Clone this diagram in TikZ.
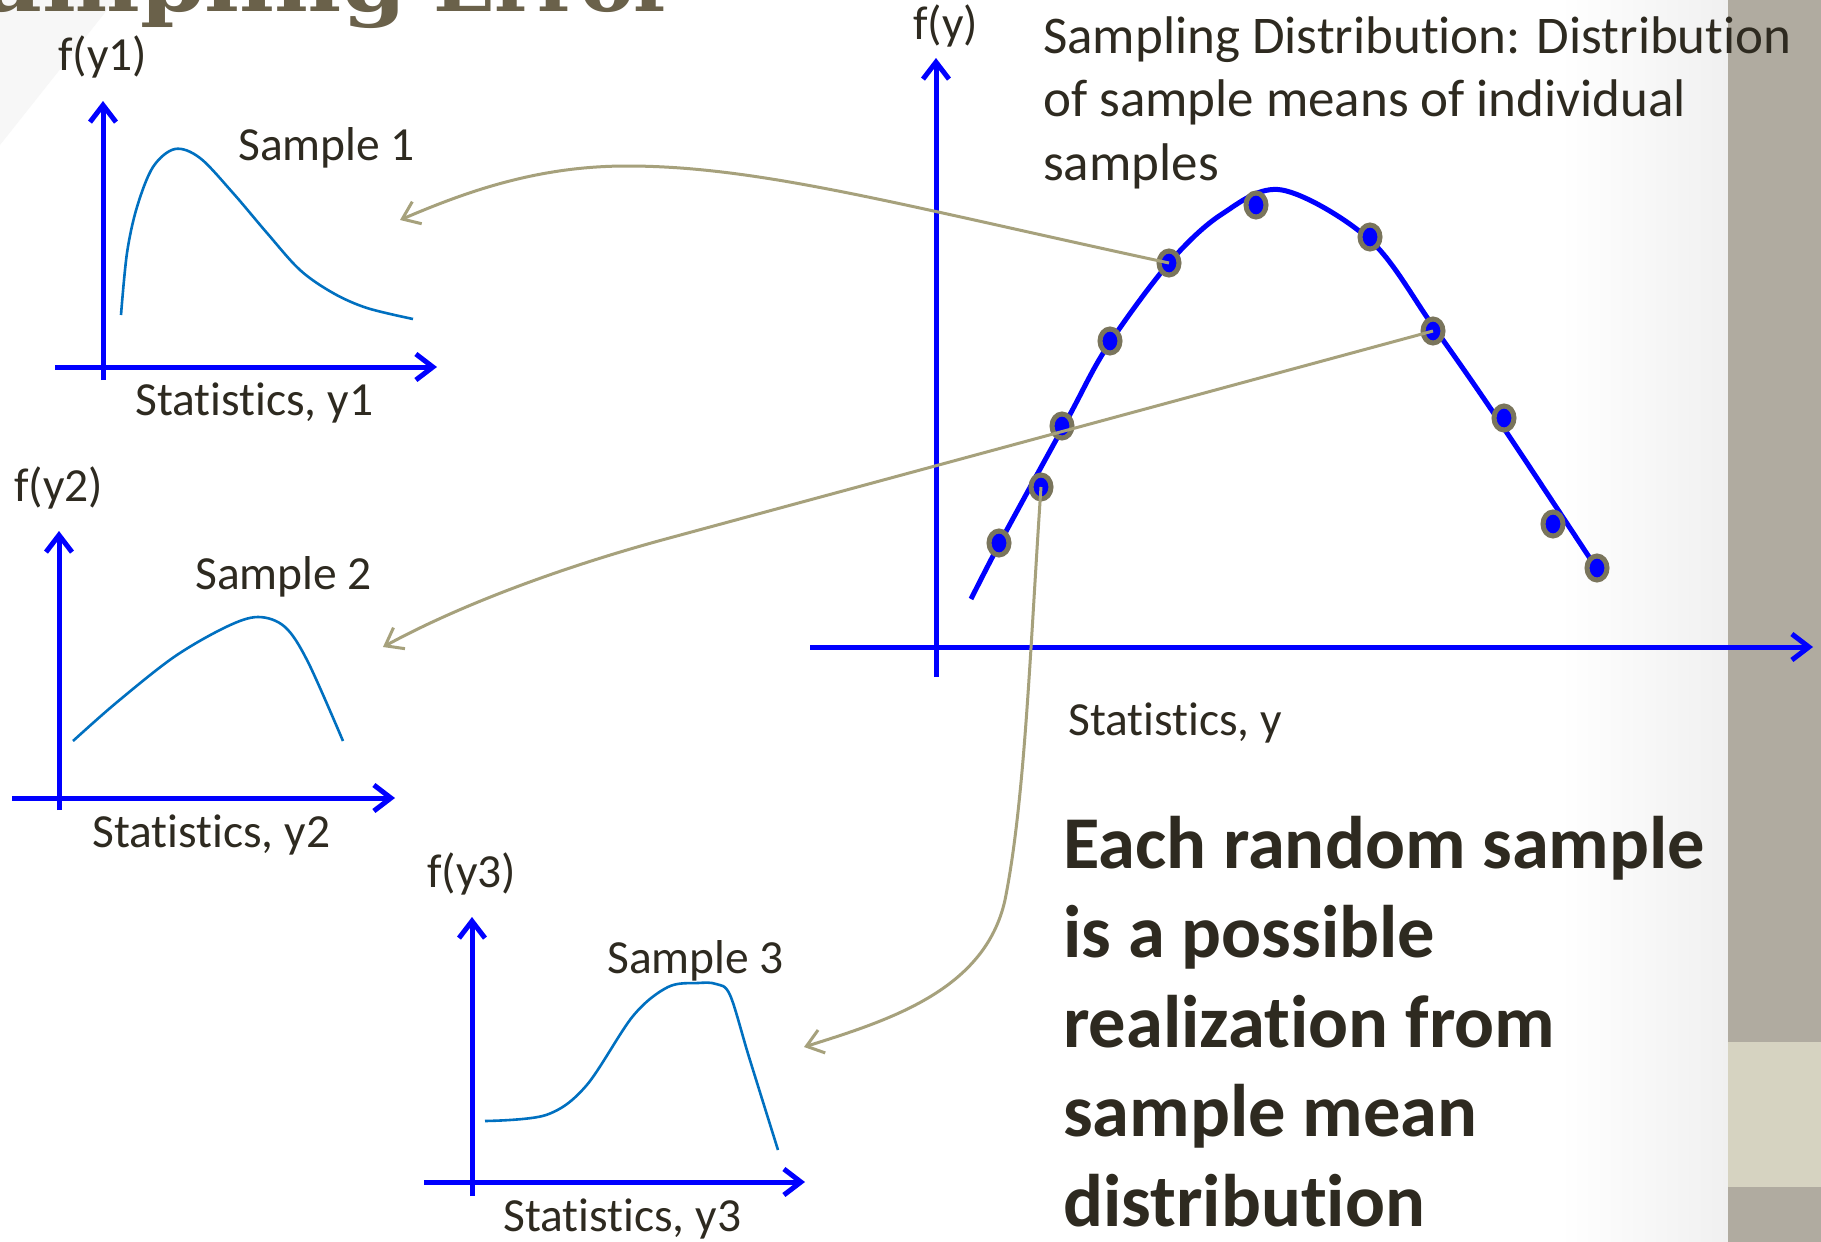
\documentclass[tikz,border=0pt]{standalone}
\usepackage{fontspec}
\setmainfont{Carlito}[Ligatures=CommonOff]
\newfontfamily\titlefontA{DejaVu Serif}[FakeStretch=1.2]
\newfontfamily\titlefontB{DejaVu Serif}[FakeStretch=1.05]
\usetikzlibrary{arrows.meta,shapes.geometric}
\definecolor{txt}{RGB}{46,42,32}
\definecolor{ttl}{RGB}{106,97,74}
\definecolor{conncol}{RGB}{166,161,124}
\definecolor{dotrim}{RGB}{122,117,92}
\definecolor{curveblue}{RGB}{0,112,192}
\definecolor{barg}{RGB}{176,171,160}
\definecolor{bandg}{RGB}{214,211,193}
\definecolor{edgeg}{RGB}{240,240,240}
\definecolor{wedgeg}{RGB}{247,247,247}
\begin{document}
\begin{tikzpicture}[x=1pt,y=-1pt,
  ax/.style={draw=blue, line width=5pt, -{Straight Barb[length=17pt,width=26pt]}},
  scurve/.style={draw=curveblue, line width=2.6pt},
  mcurve/.style={draw=blue, line width=5pt},
  dotnode/.style={ellipse, draw=dotrim, fill=blue, line width=5pt, minimum width=20pt, minimum height=24pt, inner sep=0pt},
  conn/.style={draw=conncol, line width=3pt, -{Straight Barb[length=16pt,width=24pt]}},
  lbl/.style={text=txt, inner sep=0pt, anchor=base west, font=\fontsize{47.5}{57}\selectfont},
  midtxt/.style={text=txt, inner sep=0pt, anchor=base west, font=\fontsize{53}{64}\selectfont},
  bigtxt/.style={text=txt, inner sep=0pt, anchor=base west, font=\bfseries\fontsize{74.5}{89}\selectfont},
  ttlstyle/.style={text=ttl, inner sep=0pt},
]
\useasboundingbox (0,0) rectangle (1821,1242);
% background
\fill[white] (0,0) rectangle (1821,1242);
\fill[wedgeg] (0,0) -- (115,0) -- (0,145) -- cycle;
\shade[left color=white, right color=edgeg] (1560,0) rectangle (1728,1242);
\fill[barg] (1728,0) rectangle (1821,1242);
\fill[bandg] (1728,1042) rectangle (1821,1187);
% title (cut off at top)
\node[ttlstyle, anchor=base east, font=\titlefontA\bfseries\fontsize{77}{80}\selectfont] (ttlA) at (407,12) {Sampling};
\node[ttlstyle, anchor=base west, font=\titlefontB\bfseries\fontsize{77}{80}\selectfont] (ttlB) at (433,12) {Error};
% main plot
\draw[ax] (936,677) -- (936,58);
\draw[ax] (810,647) -- (1813,647);
\draw[mcurve] plot[smooth, tension=0.55] coordinates {(971,599) (1003,537) (1067,420) (1107,347) (1169,263) (1222,214) (1282,190) (1370,240) (1433,326) (1497,418) (1595,566)};
\node[dotnode] (d1) at (999,543) {};
\node[dotnode] (d2) at (1041,487) {};
\node[dotnode] (d3) at (1062,426) {};
\node[dotnode] (d4) at (1110,341) {};
\node[dotnode] (d5) at (1169,263) {};
\node[dotnode] (d6) at (1256,205) {};
\node[dotnode] (d7) at (1370,237) {};
\node[dotnode] (d8) at (1433,331) {};
\node[dotnode] (d9) at (1504,418) {};
\node[dotnode] (d10) at (1553,524) {};
\node[dotnode] (d11) at (1597,568) {};
% sample plot 1
\draw[ax] (103,380) -- (103,101);
\draw[ax] (55,367) -- (437,367);
\draw[scurve] plot[smooth, tension=0.55] coordinates {(121,315) (127,253) (137,207) (153,167) (175,149) (200,158) (233,193) (267,233) (300,270) (333,293) (367,308) (413,319)};
% sample plot 2
\draw[ax] (59,810) -- (59,531);
\draw[ax] (12,798) -- (395,798);
\draw[scurve] plot[smooth, tension=0.55] coordinates {(73,741) (116,703) (174,657) (226,627) (258,617) (285,627) (308,662) (343,741)};
% sample plot 3
\draw[ax] (472,1196) -- (472,917);
\draw[ax] (424,1182) -- (805,1182);
\draw[scurve] plot[smooth, tension=0.55] coordinates {(485,1121) (546,1115) (586,1086) (633,1016) (668,987) (698,983) (716,984) (730,995) (749,1057) (778,1150)};
% connector targets
\coordinate (t1) at (400,220);
\coordinate (t2) at (383,647);
\coordinate (t3) at (804,1047);
\draw[conn] (d5.center) .. controls (900,205) and (760,166) .. (627,166) .. controls (540,166) and (470,190) .. (t1);
\draw[conn] (d8.center) -- (662,540) .. controls (560,568) and (460,605) .. (t2);
\draw[conn] (d2.center) .. controls (1030,650) and (1025,800) .. (1005,900) .. controls (985,990) and (890,1020) .. (t3);
% labels
\node[lbl] (fy1) at (58,70) {f(y1)};
\node[lbl] (s1) at (238,160) {Sample 1};
\node[lbl] (x1) at (135,415) {Statistics, y1};
\node[lbl] (fy2) at (14,501) {f(y2)};
\node[lbl] (s2) at (195,589) {Sample 2};
\node[lbl] (x2) at (92,847) {Statistics, y2};
\node[lbl] (fy3) at (427,887) {f(y3)};
\node[lbl] (s3) at (607,973) {Sample 3};
\node[lbl] (x3) at (503,1231) {Statistics, y3};
\node[lbl] (fy) at (913,39) {f(y)};
\node[lbl] (xy) at (1068,735) {Statistics, y};
\node[midtxt] (sd1) at (1043,53) {Sampling Distribution: Distribution};
\node[midtxt] (sd2) at (1043,116.5) {of sample means of individual};
\node[midtxt] (sd3) at (1043,180) {samples};
\node[bigtxt] (b1) at (1063,868) {Each random sample};
\node[bigtxt] (b2) at (1063,957.5) {is a possible};
\node[bigtxt] (b3) at (1063,1047) {realization from};
\node[bigtxt] (b4) at (1063,1136.5) {sample mean};
\node[bigtxt] (b5) at (1063,1226) {distribution};
\end{tikzpicture}
\end{document}
